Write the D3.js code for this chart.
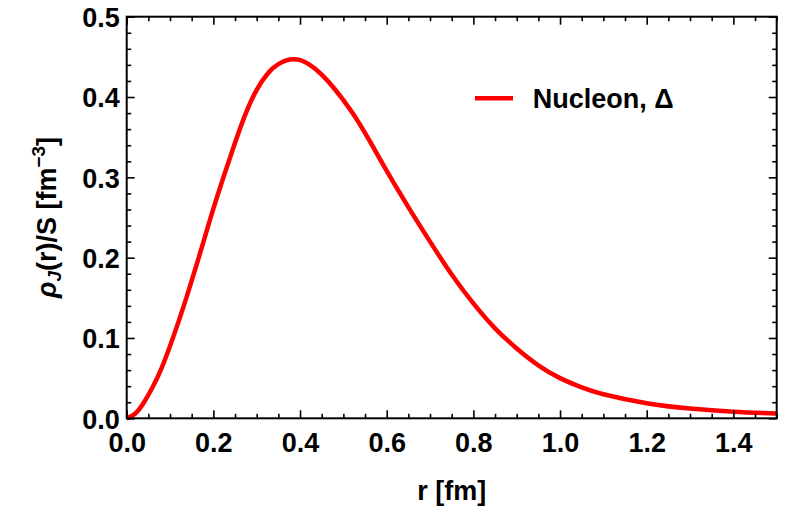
<!DOCTYPE html>
<html>
<head>
<meta charset="utf-8">
<script src="https://cdn.jsdelivr.net/npm/d3@7"></script>
<style>
  html, body { margin: 0; padding: 0; background: #fff; }
  text { font-family: "Liberation Sans", Arial, sans-serif; font-weight: bold; }
</style>
</head>
<body>
<svg id="chart" width="799" height="517"></svg>
<script>
// Data
const rValues   = [0, 0.02, 0.04, 0.06, 0.08, 0.10, 0.12, 0.14, 0.16, 0.18, 0.20, 0.225, 0.25, 0.275, 0.30, 0.325, 0.35, 0.385, 0.42, 0.45, 0.48, 0.52, 0.56, 0.60, 0.65, 0.70, 0.75, 0.80, 0.85, 0.90, 0.95, 1.00, 1.05, 1.10, 1.20, 1.30, 1.40, 1.50];
const rhoValues = [0, 0.006, 0.020, 0.039, 0.062, 0.090, 0.121, 0.154, 0.189, 0.225, 0.261, 0.303, 0.343, 0.380, 0.409, 0.429, 0.441, 0.447, 0.441, 0.428, 0.410, 0.381, 0.346, 0.308, 0.263, 0.220, 0.179, 0.143, 0.112, 0.087, 0.066, 0.050, 0.0385, 0.030, 0.0188, 0.0122, 0.0083, 0.006];
const xTickLabels = ["0.0", "0.2", "0.4", "0.6", "0.8", "1.0", "1.2", "1.4"];
const yTickLabels = ["0.0", "0.1", "0.2", "0.3", "0.4", "0.5"];
const seriesName = "Nucleon, Δ";

const svg = d3.select("#chart");
const margin = { left: 126.7, right: 799 - 776.7, top: 16.7, bottom: 517 - 418.3 };
const W = 799, H = 517;
const x = d3.scaleLinear().domain([0, 1.5]).range([margin.left, W - margin.right]);
const y = d3.scaleLinear().domain([0, 0.5]).range([H - margin.bottom, margin.top]);

const fs = 27;
const majorLen = 8, minorLen = 4.5;

const xMajor = xTickLabels.map(Number);
const xMinor = d3.range(0, 1.5001, 0.05).filter(v => Math.abs(v / 0.2 - Math.round(v / 0.2)) > 1e-6);
const yMajor = yTickLabels.map(Number);
const yMinor = d3.range(0, 0.5001, 0.02).filter(v => Math.abs(v / 0.1 - Math.round(v / 0.1)) > 1e-6);

// curve
const data = rValues.map((r, i) => [r, rhoValues[i]]);
const line = d3.line().x(d => x(d[0])).y(d => y(d[1])).curve(d3.curveNatural);
svg.append("path").datum(data)
  .attr("d", line)
  .attr("fill", "none")
  .attr("stroke", "#ff0000")
  .attr("stroke-width", 4.5)
  .attr("stroke-linejoin", "round");

// axes (ticks inward)
function axisWith(gen, ticks, len, fmt) {
  return gen.tickValues(ticks).tickSizeInner(len).tickSizeOuter(0).tickFormat(fmt);
}
const ax = svg.append("g").attr("class", "axes");
// bottom
ax.append("g").attr("transform", `translate(0,${y(0)})`)
  .call(axisWith(d3.axisTop(x), xMinor, minorLen, () => ""));
const gB = ax.append("g").attr("transform", `translate(0,${y(0)})`)
  .call(axisWith(d3.axisTop(x), xMajor, majorLen, (d, i) => xTickLabels[i]));
gB.selectAll("text").attr("y", 0).attr("dy", 0)
  .attr("transform", "translate(0,34)").attr("font-size", fs).attr("fill", "#000");
// top
ax.append("g").attr("transform", `translate(0,${y(0.5)})`)
  .call(axisWith(d3.axisBottom(x), xMinor, minorLen, () => ""));
ax.append("g").attr("transform", `translate(0,${y(0.5)})`)
  .call(axisWith(d3.axisBottom(x), xMajor, majorLen, () => ""));
// left
ax.append("g").attr("transform", `translate(${x(0)},0)`)
  .call(axisWith(d3.axisRight(y), yMinor, minorLen, () => ""));
const gL = ax.append("g").attr("transform", `translate(${x(0)},0)`)
  .call(axisWith(d3.axisRight(y), yMajor, majorLen, (d, i) => yTickLabels[i]));
gL.selectAll("text").attr("x", -7).attr("dy", "0.36em")
  .attr("text-anchor", "end").attr("font-size", fs).attr("fill", "#000");
// right
ax.append("g").attr("transform", `translate(${x(1.5)},0)`)
  .call(axisWith(d3.axisLeft(y), yMinor, minorLen, () => ""));
ax.append("g").attr("transform", `translate(${x(1.5)},0)`)
  .call(axisWith(d3.axisLeft(y), yMajor, majorLen, () => ""));

ax.selectAll(".domain").remove();
ax.selectAll(".tick line").attr("stroke", "#000").attr("stroke-width", 1.6);

// frame
svg.append("rect")
  .attr("x", x(0)).attr("y", y(0.5))
  .attr("width", x(1.5) - x(0)).attr("height", y(0) - y(0.5))
  .attr("fill", "none").attr("stroke", "#000").attr("stroke-width", 2);

// x-axis title
svg.append("text")
  .attr("x", (x(0) + x(1.5)) / 2).attr("y", 500)
  .attr("text-anchor", "middle").attr("font-size", fs).attr("fill", "#000")
  .text("r [fm]");

// y-axis title
const yt = svg.append("text")
  .attr("transform", `translate(56,${(y(0) + y(0.5)) / 2}) rotate(-90)`)
  .attr("text-anchor", "middle").attr("font-size", fs).attr("fill", "#000");
yt.append("tspan").attr("font-style", "italic").text("ρ");
yt.append("tspan").attr("font-style", "italic").attr("font-size", fs * 0.7).attr("dy", 5).text("J");
yt.append("tspan").attr("dy", -5).text("(r)/S [fm");
yt.append("tspan").attr("font-size", fs * 0.7).attr("dy", -11).text("−3");
yt.append("tspan").attr("dy", 11).text("]");

// legend
const lg = svg.append("g");
lg.append("line")
  .attr("x1", 475).attr("x2", 513).attr("y1", 98.3).attr("y2", 98.3)
  .attr("stroke", "#ff0000").attr("stroke-width", 4.5);
lg.append("text")
  .attr("x", 532.7).attr("y", 98.3).attr("dy", "0.36em")
  .attr("font-size", fs).attr("fill", "#000")
  .text(seriesName);
</script>
</body>
</html>
